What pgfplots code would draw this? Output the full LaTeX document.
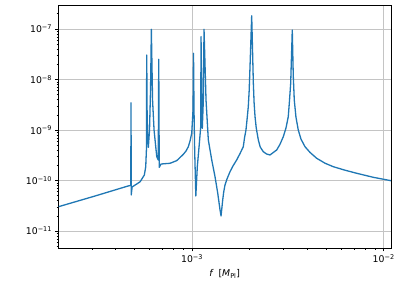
\documentclass[border=0pt]{standalone}
\usepackage{fontspec}
\setmainfont{DejaVu Sans}
\usepackage{pgfplots}
\pgfplotsset{compat=1.18}
\definecolor{mplblue}{HTML}{1F77B4}
\definecolor{gridgray}{HTML}{C4C4C4}
\begin{document}
\begin{tikzpicture}
\begin{axis}[
  scale only axis,
  width=357.4pt, height=261.2pt,
  xmode=log, ymode=log,
  xmin=2.01e-4, xmax=1.092e-2,
  ymin=4.6e-12, ymax=2.98e-7,
  xtick={1e-3,1e-2},
  xticklabels={10\textsuperscript{−3},10\textsuperscript{−2}},
  ytick={1e-11,1e-10,1e-9,1e-8,1e-7},
  yticklabels={10\textsuperscript{−11},10\textsuperscript{−10},10\textsuperscript{−9},10\textsuperscript{−8},10\textsuperscript{−7}},
  minor xtick={3e-4,4e-4,5e-4,6e-4,7e-4,8e-4,9e-4,2e-3,3e-3,4e-3,5e-3,6e-3,7e-3,8e-3,9e-3},
  minor ytick={5e-12,6e-12,7e-12,8e-12,9e-12,2e-11,3e-11,4e-11,5e-11,6e-11,7e-11,8e-11,9e-11,2e-10,3e-10,4e-10,5e-10,6e-10,7e-10,8e-10,9e-10,2e-9,3e-9,4e-9,5e-9,6e-9,7e-9,8e-9,9e-9,2e-8,3e-8,4e-8,5e-8,6e-8,7e-8,8e-8,9e-8,2e-7},
  tick align=outside,
  tick pos=left,
  major tick length=3.5pt,
  minor tick length=2pt,
  every major tick/.style={line width=0.8pt, black},
  every minor tick/.style={line width=0.6pt, black},
  xmajorgrids, ymajorgrids,
  major grid style={line width=0.8pt, gridgray},
  axis line style={line width=0.8pt, black},
  tick label style={font=\fontsize{10pt}{12pt}\selectfont},
  xlabel={\itshape f\ \ \upshape[\itshape M\textsubscript{\upshape Pl}\upshape]},
  xlabel style={font=\fontsize{10pt}{12pt}\selectfont},
]
\addplot[mplblue, line width=1.4pt, line join=round, mark=none] coordinates {
(2.012e-4, 3.03e-11)
(3.119e-4, 4.93e-11)
(4.636e-4, 7.78e-11)
(4.790e-4, 8.0e-11)
(4.805e-4, 3.47e-9)
(4.815e-4, 5.16e-11)
(4.870e-4, 7.45e-11)
(5.355e-4, 9.4e-11)
(5.638e-4, 1.285e-10)
(5.733e-4, 1.875e-10)
(5.780e-4, 4.0e-10)
(5.802e-4, 3.05e-8)
(5.830e-4, 2.0e-9)
(5.870e-4, 7.0e-10)
(5.916e-4, 4.54e-10)
(6.000e-4, 1.0e-9)
(6.074e-4, 6.19e-9)
(6.134e-4, 9.86e-8)
(6.223e-4, 3.93e-9)
(6.336e-4, 1.0e-9)
(6.545e-4, 2.96e-10)
(6.664e-4, 2.55e-10)
(6.704e-4, 2.51e-8)
(6.744e-4, 1.82e-10)
(6.892e-4, 2.12e-10)
(7.676e-4, 2.19e-10)
(8.32e-4, 2.47e-10)
(9.01e-4, 3.30e-10)
(9.305e-4, 3.84e-10)
(9.565e-4, 4.67e-10)
(9.763e-4, 6.05e-10)
(9.964e-4, 8.61e-10)
(1.012e-3, 2.49e-9)
(1.018e-3, 3.31e-8)
(1.024e-3, 2.5e-9)
(1.032e-3, 4.0e-10)
(1.040e-3, 1.3e-10)
(1.0466e-3, 4.93e-11)
(1.0655e-3, 1.875e-10)
(1.092e-3, 5.46e-10)
(1.110e-3, 1.16e-9)
(1.114e-3, 7.05e-8)
(1.1315e-3, 1.08e-9)
(1.1455e-3, 3.93e-9)
(1.155e-3, 9.86e-8)
(1.183e-3, 3.93e-9)
(1.2162e-3, 6.34e-10)
(1.267e-3, 2.55e-10)
(1.318e-3, 1.19e-10)
(1.362e-3, 5.58e-11)
(1.400e-3, 2.61e-11)
(1.417e-3, 1.98e-11)
(1.4457e-3, 4.11e-11)
(1.463e-3, 5.9e-11)
(1.486e-3, 8.15e-11)
(1.522e-3, 1.07e-10)
(1.578e-3, 1.49e-10)
(1.636e-3, 1.94e-10)
(1.710e-3, 2.55e-10)
(1.779e-3, 3.4e-10)
(1.852e-3, 4.67e-10)
(1.879e-3, 7.0e-10)
(1.912e-3, 1.0e-9)
(1.940e-3, 1.7e-9)
(1.966e-3, 2.89e-9)
(1.987e-3, 6.0e-9)
(2.007e-3, 1.79e-8)
(2.048e-3, 1.83e-7)
(2.089e-3, 8.41e-9)
(2.108e-3, 3.5e-9)
(2.132e-3, 1.83e-9)
(2.163e-3, 1.1e-9)
(2.218e-3, 6.34e-10)
(2.269e-3, 4.6e-10)
(2.354e-3, 3.72e-10)
(2.447e-3, 3.35e-10)
(2.552e-3, 3.20e-10)
(2.766e-3, 4.02e-10)
(2.877e-3, 5.2e-10)
(2.994e-3, 7.36e-10)
(3.093e-3, 1.1e-9)
(3.178e-3, 1.83e-9)
(3.225e-3, 3.8e-9)
(3.272e-3, 8.41e-9)
(3.335e-3, 9.55e-8)
(3.375e-3, 1.2e-8)
(3.416e-3, 3.93e-9)
(3.486e-3, 1.8e-9)
(3.584e-3, 1.0e-9)
(3.703e-3, 6.6e-10)
(3.886e-3, 4.67e-10)
(4.126e-3, 3.6e-10)
(4.472e-3, 2.75e-10)
(4.94e-3, 2.2e-10)
(5.459e-3, 1.875e-10)
(6.28e-3, 1.6e-10)
(7.229e-3, 1.39e-10)
(8.826e-3, 1.156e-10)
(1.0917e-2, 9.91e-11)
};
\end{axis}
\pgfresetboundingbox
\path ([shift={(-62.9pt,-40.85pt)}]current axis.south west) rectangle ([shift={(12.9pt,5.4pt)}]current axis.north east);
\end{tikzpicture}
\end{document}
